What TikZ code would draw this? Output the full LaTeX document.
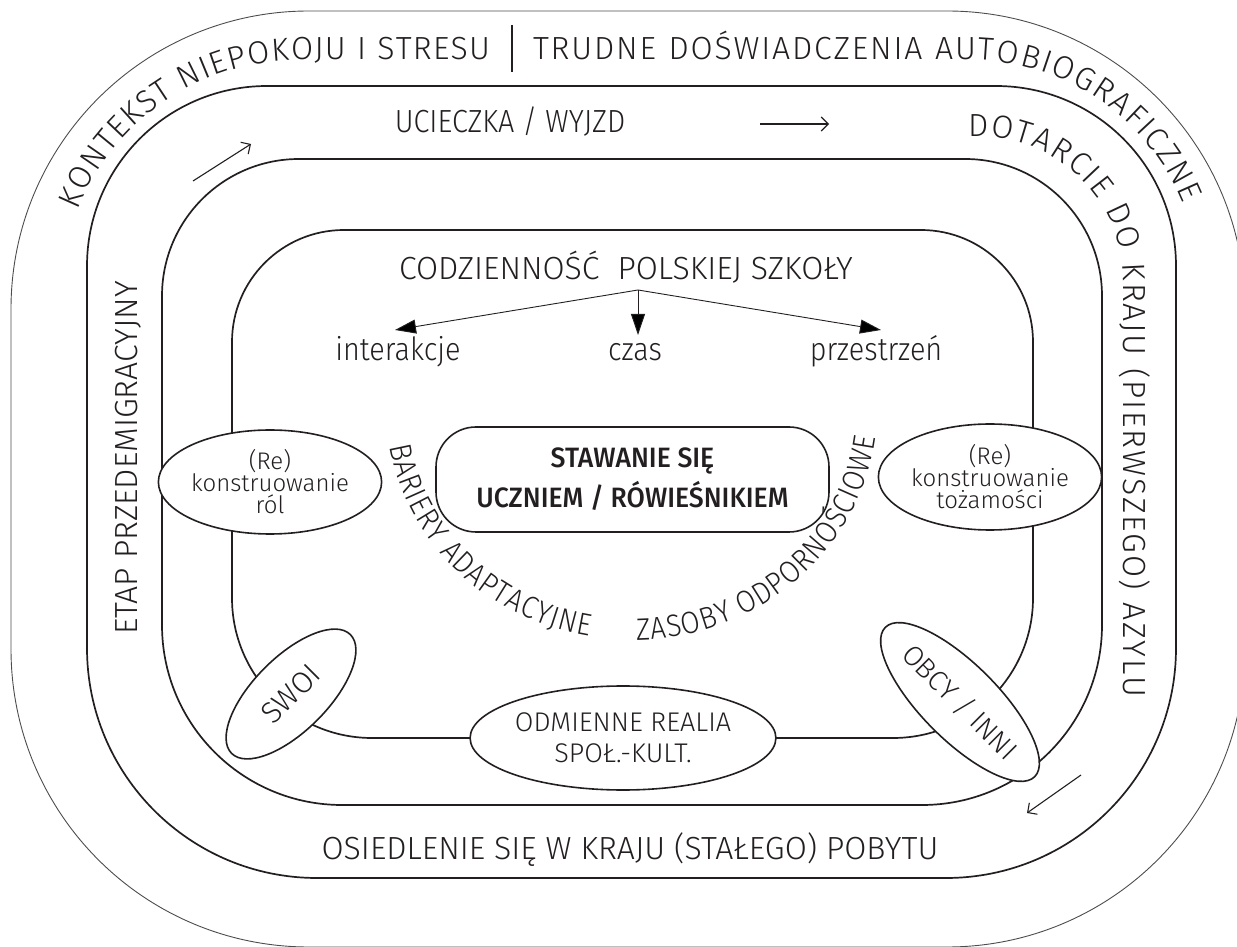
\documentclass[tikz,border=0pt]{standalone}
\usepackage{fontspec}
\IfFontExistsTF{Fira Sans Light}{%
  \setmainfont{Fira Sans Light}[FakeStretch=0.9]%
  \newfontfamily\widef{Fira Sans Light}[FakeStretch=1.0]}{%
  \setmainfont{Fira Sans}[FakeStretch=0.9]%
  \newfontfamily\widef{Fira Sans}[FakeStretch=1.0]}
\IfFontExistsTF{Fira Sans Medium}{\newfontfamily\medf{Fira Sans Medium}[FakeStretch=0.95]}{\newfontfamily\medf{Fira Sans}[FakeStretch=0.95]}
\usetikzlibrary{shapes.geometric,decorations.text,arrows.meta}
\definecolor{ink}{HTML}{231F20}
\newcommand{\bandfont}{\widef\fontsize{32pt}{38pt}\selectfont}
\begin{document}
\begin{tikzpicture}[x=1pt,y=1pt,
  ring/.style={draw=ink,line width=1.7pt},
  outerring/.style={draw=ink!80,line width=0.9pt},
  bubble/.style={ellipse,draw=ink,line width=1.6pt,fill=white,inner sep=0pt,align=center,text=ink},
  lbl/.style={text=ink,inner sep=0pt},
  bandtext/.style={decorate,decoration={text along path,text color=ink,text align={fit to path}}},
  flowarrow/.style={draw=ink,line width=1.1pt,-{Straight Barb[length=7pt,width=14pt]}},
  brancharrow/.style={draw=ink,line width=0.9pt,-{Triangle[length=21pt,width=14pt]}}]
\useasboundingbox (0,0) rectangle (1237,946);
\clip (0,0) rectangle (1237,946);
% rings (top corners tighter than bottom corners)
\draw[outerring,rounded corners=298pt] (11,-1) rectangle (1245,935);
\draw[ring] (87,680) arc[start angle=180,end angle=90,radius=180] -- (996,860)
  arc[start angle=90,end angle=0,radius=180] -- (1176,298)
  arc[start angle=0,end angle=-90,radius=230] -- (317,68)
  arc[start angle=270,end angle=180,radius=230] -- cycle;
\draw[ring] (162,650) arc[start angle=180,end angle=90,radius=137] -- (965,787)
  arc[start angle=90,end angle=0,radius=137] -- (1102,321)
  arc[start angle=0,end angle=-90,radius=180] -- (342,141)
  arc[start angle=270,end angle=180,radius=180] -- cycle;
\draw[ring] (232,604) arc[start angle=180,end angle=90,radius=112] -- (921,716)
  arc[start angle=90,end angle=0,radius=112] -- (1033,348)
  arc[start angle=0,end angle=-90,radius=140] -- (372,208)
  arc[start angle=270,end angle=180,radius=140] -- cycle;
% bubbles
\node[bubble,minimum width=190pt,minimum height=104pt,font=\widef\fontsize{24pt}{22pt}\selectfont] (roles) at (270,464) {(Re)\\konstruowanie\\ról};
\node[bubble,minimum width=200pt,minimum height=106pt,font=\widef\fontsize{24pt}{22pt}\selectfont] (ident) at (990,469) {(Re)\\konstruowanie\\tożamości};
\node[bubble,minimum width=292pt,minimum height=104pt,font=\widef\fontsize{27pt}{31pt}\selectfont] (realia) at (623,208) {ODMIENNE REALIA\\SPOŁ.-KULT.};
\node[bubble,rotate=45,minimum width=168pt,minimum height=74pt,font=\widef\fontsize{30pt}{30pt}\selectfont] (swoi) at (291,252) {SWOI};
\node[bubble,rotate=-45,minimum width=168pt,minimum height=76pt,font=\widef\fontsize{28pt}{30pt}\selectfont] (obcy) at (960,244) {OBCY / INNI};
% core
\node[draw=ink,line width=1.6pt,rounded corners=40pt,minimum width=393pt,minimum height=105pt,align=center,text=ink,font={\medf\fontsize{28pt}{40pt}\selectfont}] (core) at (632.5,466.5) {STAWANIE SIĘ\\UCZNIEM / RÓWIEŚNIKIEM};
% band texts
\path[bandtext,decoration={text={|\bandfont|KONTEKST NIEPOKOJU I STRESU}}]
  ([shift={(158:240)}]300,646) arc[start angle=158,end angle=90,radius=240] -- (490,886);
\path[bandtext,decoration={text={|\bandfont|TRUDNE DOŚWIADCZENIA AUTOBIOGRAFICZNE}}]
  (533,886) -- (970,886) arc[start angle=90,end angle=22,radius=230];
\draw[ink,line width=1.1pt] (512,921) -- (512,874);
\path[bandtext,decoration={text={|\bandfont|DOTARCIE DO KRAJU (PIERWSZEGO) AZYLU}}]
  (968,809) -- (980,809) arc[start angle=90,end angle=0,radius=143] -- (1123,249);
\node[lbl,font=\bandfont,rotate=90] (etap) at (128,488) {ETAP PRZEDEMIGRACYJNY};
\node[lbl,font=\fontsize{32pt}{38pt}\selectfont,anchor=base] (ucieczka) at (510,813) {UCIECZKA / WYJZD};
\node[lbl,font=\bandfont,anchor=base] (osiedlenie) at (630,87) {OSIEDLENIE SIĘ W KRAJU (STAŁEGO) POBYTU};
% arcs around core
\path[bandtext,decoration={text={|\fontsize{31pt}{36pt}\selectfont|BARIERY ADAPTACYJNE}}]
  ([shift={(189:245 and 230)}]632,536) arc[start angle=189,end angle=260,x radius=245,y radius=230];
\path[bandtext,decoration={text={|\fontsize{31pt}{36pt}\selectfont|ZASOBY ODPORNOŚCIOWE}}]
  ([shift={(271:245 and 230)}]632,536) arc[start angle=271,end angle=353,x radius=245,y radius=230];
% school
\node[lbl,font=\bandfont,anchor=base] (codz) at (626,666) {CODZIENNOŚĆ\hspace{18pt}POLSKIEJ SZKOŁY};
\node[lbl,font=\fontsize{32pt}{38pt}\selectfont,anchor=base] (inter) at (398,585) {interakcje};
\node[lbl,font=\fontsize{32pt}{38pt}\selectfont,anchor=base] (czas) at (635,585) {czas};
\node[lbl,font=\fontsize{32pt}{38pt}\selectfont,anchor=base] (przes) at (876,585) {przestrzeń};
\coordinate (apex) at (638,656);
\coordinate (tipL) at (395,616);
\coordinate (tipC) at (638,611);
\coordinate (tipR) at (881,616);
\draw[brancharrow] (apex) -- (tipL);
\draw[brancharrow] (apex) -- (tipC);
\draw[brancharrow] (apex) -- (tipR);
% flow arrows
\coordinate (a1s) at (193,765); \coordinate (a1e) at (251,802);
\coordinate (a2s) at (760,822); \coordinate (a2e) at (829,822);
\coordinate (a3s) at (1081,171); \coordinate (a3e) at (1027,133);
\draw[flowarrow] (a1s) -- (a1e);
\draw[flowarrow] (a2s) -- (a2e);
\draw[flowarrow] (a3s) -- (a3e);
\end{tikzpicture}
\end{document}
